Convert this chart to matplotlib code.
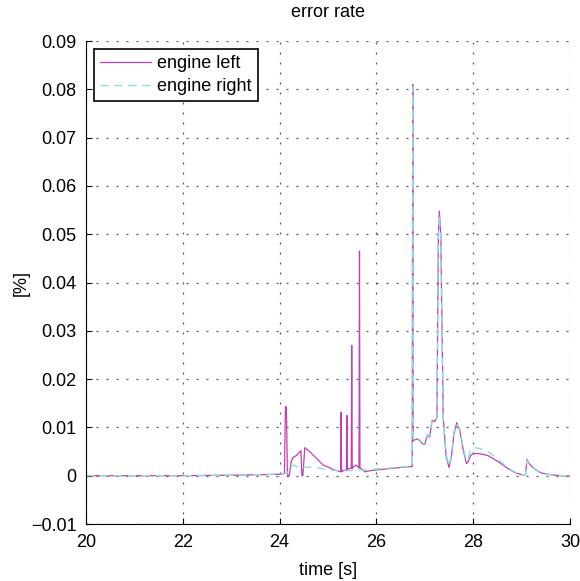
import matplotlib
matplotlib.use("Agg")
from matplotlib import pyplot as plt

plt.rcParams['font.family'] = ['Liberation Sans', 'DejaVu Sans']

# engine left (percent error over time)
t_left = [20.0, 21.0, 22.0, 23.0, 24.0, 24.1, 24.12, 24.14, 24.16, 24.18, 24.2, 24.24,
          24.28, 24.35, 24.44, 24.46, 24.48, 24.52, 24.6, 24.7, 24.8, 24.9, 25.0, 25.1,
          25.2, 25.26, 25.27, 25.28, 25.3, 25.38, 25.39, 25.4, 25.43, 25.48, 25.49, 25.5,
          25.52, 25.58, 25.64, 25.65, 25.66, 25.7, 25.76, 25.85, 26.0, 26.3, 26.6, 26.74,
          26.75, 26.76, 26.78, 26.85, 26.9, 26.95, 27.0, 27.05, 27.1, 27.15, 27.2, 27.25,
          27.28, 27.3, 27.33, 27.38, 27.44, 27.5, 27.55, 27.6, 27.66, 27.72, 27.8, 27.86,
          27.9, 27.95, 28.0, 28.1, 28.2, 28.3, 28.4, 28.5, 28.6, 28.7, 28.8, 28.9, 29.0,
          29.08, 29.11, 29.14, 29.2, 29.3, 29.4, 29.6, 29.8, 30.0]
e_left = [0.0, 0.0, 0.0, 0.0001, 0.0003, 0.0005, 0.0143, 0.0142, 0.0005, -0.0002, 0.0,
          0.003, 0.0038, 0.0042, 0.0052, 0.0, 0.0, 0.0058, 0.0052, 0.0042, 0.0032, 0.0022,
          0.0018, 0.0013, 0.001, 0.0008, 0.0131, 0.0008, 0.001, 0.0012, 0.0125, 0.0012,
          0.0015, 0.0015, 0.027, 0.0015, 0.0018, 0.0022, 0.0016, 0.0465, 0.0016, 0.0014,
          0.0008, 0.001, 0.0012, 0.0015, 0.0018, 0.0019, 0.081, 0.0072, 0.0074, 0.0076,
          0.0072, 0.0066, 0.0065, 0.0084, 0.008, 0.0115, 0.0112, 0.012, 0.05, 0.0548,
          0.05, 0.012, 0.004, 0.0017, 0.004, 0.0085, 0.011, 0.0095, 0.005, 0.0025, 0.003,
          0.0042, 0.0046, 0.0046, 0.0044, 0.0042, 0.0036, 0.003, 0.0023, 0.0016, 0.001,
          0.0005, 0.0002, 0.0002, 0.0034, 0.0028, 0.002, 0.0012, 0.0006, 0.0002, 0.0,
          -0.0001]

# engine right
t_right = [20.0, 21.0, 22.0, 23.0, 24.0, 24.15, 24.22, 24.3, 24.4, 24.6, 24.8, 25.0,
           25.3, 25.6, 26.0, 26.3, 26.6, 26.74, 26.75, 26.76, 26.78, 26.85, 26.9, 26.95,
           27.0, 27.05, 27.1, 27.15, 27.2, 27.25, 27.28, 27.3, 27.33, 27.38, 27.44, 27.5,
           27.55, 27.6, 27.66, 27.72, 27.8, 27.86, 27.9, 27.95, 28.0, 28.1, 28.2, 28.3,
           28.4, 28.5, 28.6, 28.7, 28.8, 28.9, 29.0, 29.08, 29.11, 29.14, 29.2, 29.3,
           29.4, 29.6, 29.8, 30.0]
e_right = [0.0, 0.0, 0.0, 0.0001, 0.0003, 0.0005, 0.0018, 0.0022, 0.0016, 0.0018,
           0.0016, 0.0012, 0.001, 0.0011, 0.0014, 0.0016, 0.0019, 0.002, 0.0805, 0.0075,
           0.0076, 0.0078, 0.0074, 0.0068, 0.0067, 0.0085, 0.0082, 0.0115, 0.0112, 0.012,
           0.049, 0.054, 0.049, 0.012, 0.0045, 0.002, 0.0045, 0.009, 0.0108, 0.0098,
           0.0055, 0.003, 0.0038, 0.0055, 0.0058, 0.0057, 0.0054, 0.005, 0.0043, 0.0035,
           0.0026, 0.0018, 0.0011, 0.0006, 0.0002, 0.0002, 0.0032, 0.0027, 0.0019,
           0.0011, 0.0005, 0.0002, 0.0, 0.0]

fig = plt.figure(figsize=(5.8, 5.81), dpi=100)
ax = fig.add_axes([0.1483, 0.0981, 0.8345, 0.8313])

ax.plot(t_left, e_left, color='#c040b8', lw=0.9, label='engine left')
ax.plot(t_right, e_right, color='#88e0e0', lw=1.0, dashes=(6, 4), label='engine right')

ax.set_xlim(20, 30)
ax.set_ylim(-0.01, 0.09)
ax.set_xticks([20, 22, 24, 26, 28, 30])
ax.set_yticks([-0.01, 0, 0.01, 0.02, 0.03, 0.04, 0.05, 0.06, 0.07, 0.08, 0.09])
ax.set_yticklabels(['\u22120.01', '0', '0.01', '0.02', '0.03', '0.04', '0.05', '0.06',
                    '0.07', '0.08', '0.09'])
ax.spines['top'].set_visible(False)
ax.spines['right'].set_visible(False)
ax.tick_params(direction='in', top=False, right=False, labelsize=13, length=4, pad=7)
ax.grid(True, color='0.35', linestyle=(0, (1.6, 6.4)), linewidth=0.9)

ax.set_title('error rate', fontsize=13, pad=17)
ax.set_xlabel('time [s]', fontsize=13, labelpad=8)
ax.set_ylabel('[%]', fontsize=13, labelpad=1)

leg = ax.legend(loc='upper left', fontsize=13, fancybox=False, framealpha=1,
                edgecolor='black', handlelength=2.8, handletextpad=0.35,
                borderaxespad=0.45, borderpad=0.35, labelspacing=0.3)
leg.get_frame().set_linewidth(1.2)

fig.savefig('out.png', dpi=100)
